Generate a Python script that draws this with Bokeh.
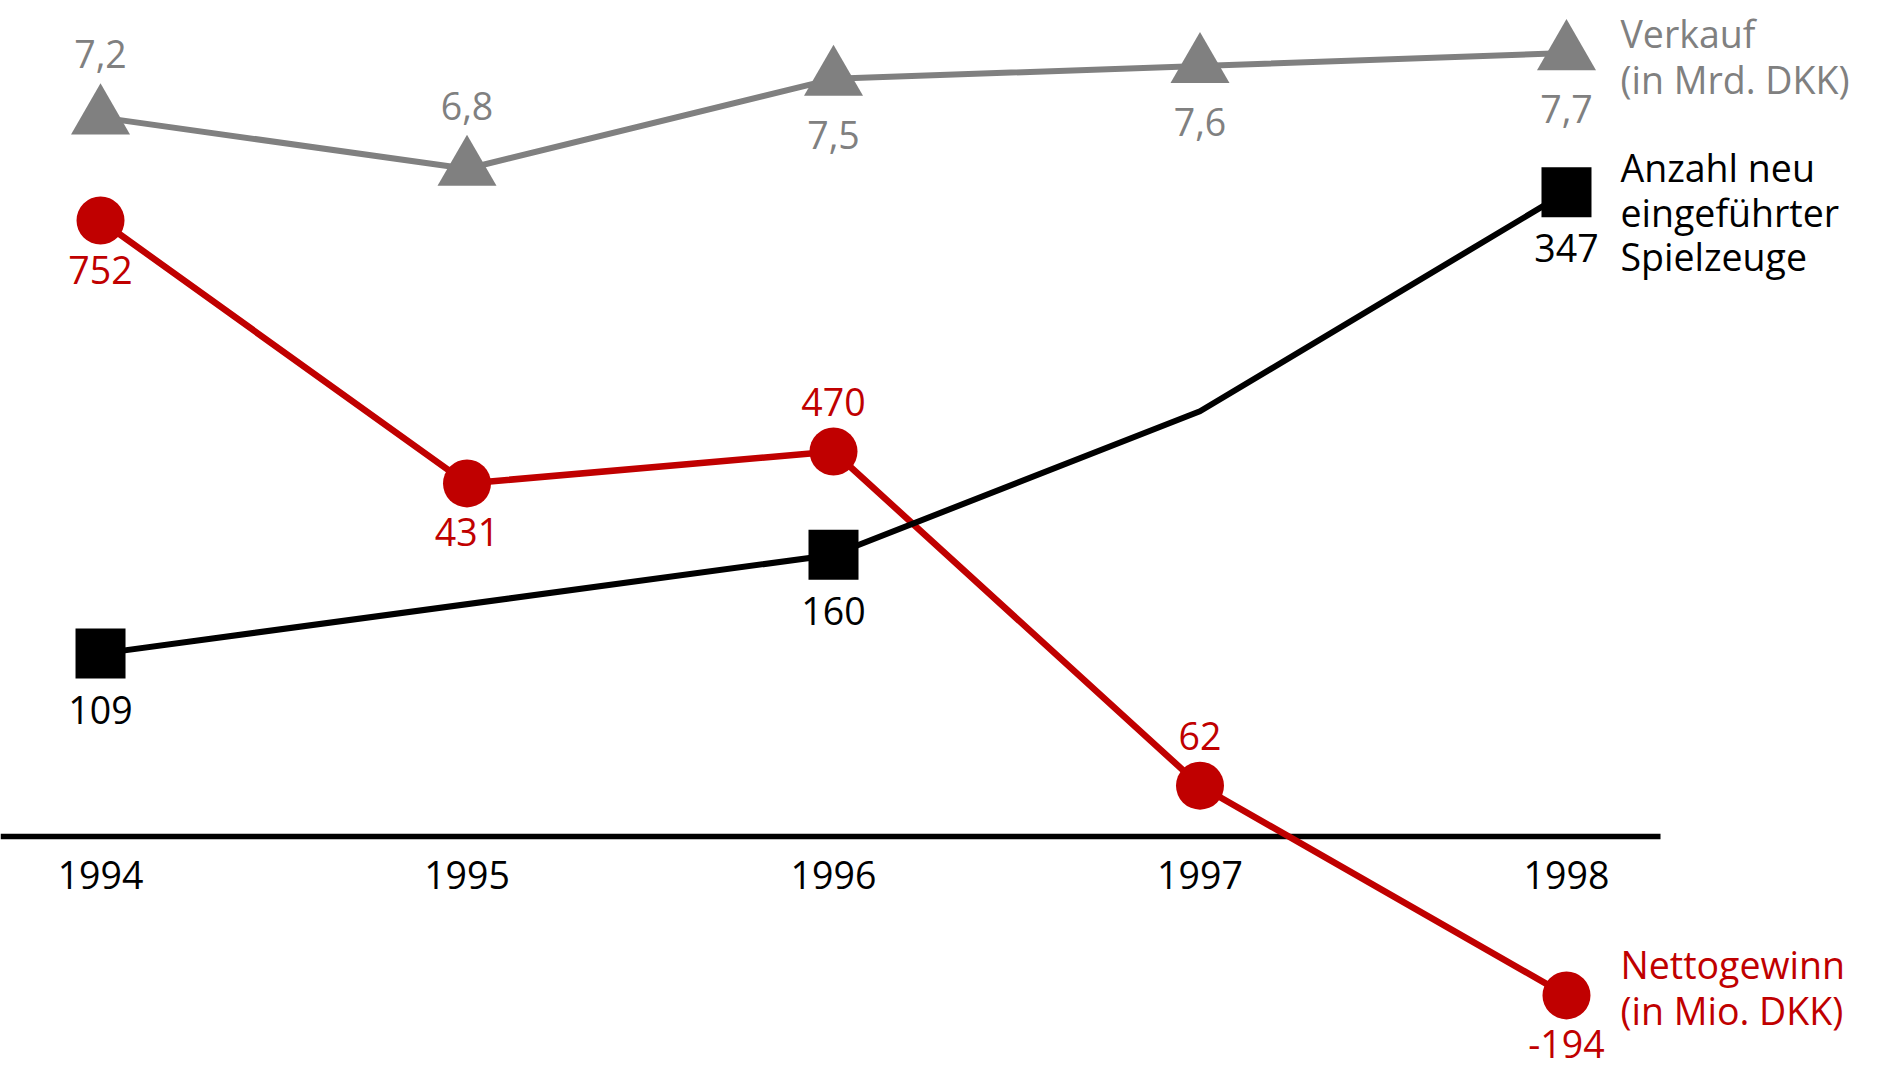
from bokeh.plotting import figure
from bokeh.models import Range1d, LinearAxis, FixedTicker, ColumnDataSource
from bokeh.core.properties import value
from bokeh.embed import file_html
from bokeh.resources import INLINE

# ---------------- data ----------------
years = [1994, 1995, 1996, 1997, 1998]
year_labels = ["1994", "1995", "1996", "1997", "1998"]

sales = [7.2, 6.8, 7.5, 7.6, 7.7]                 # Verkauf (in Mrd. DKK)
sales_text = ["7,2", "6,8", "7,5", "7,6", "7,7"]
sales_side = ["above", "above", "below", "below", "below"]

profit = [752, 431, 470, 62, -194]               # Nettogewinn (in Mio. DKK)
profit_text = ["752", "431", "470", "62", "-194"]
profit_side = ["below", "below", "above", "above", "below"]

toys_years = [1994, 1996, 1997, 1998]            # Anzahl neu eingeführter Spielzeuge
toys = [109, 160, 234, 347]
toys_marked = [True, True, False, True]
toys_text = ["109", "160", "", "347"]

sales_name = ["Verkauf", "(in Mrd. DKK)"]
toys_name = ["Anzahl neu", "eingeführter", "Spielzeuge"]
profit_name = ["Nettogewinn", "(in Mio. DKK)"]

GRAY = "#808080"
RED = "#C00000"
BLACK = "#000000"
FONT = "Open Sans"
FS = "37.5px"

p = figure(width=1880, height=1080, output_backend="svg", toolbar_location=None,
           x_range=Range1d(1993.7271, 1998.8568), y_range=Range1d(-297.9, 1020.6),
           x_axis_type=None, y_axis_type=None, min_border=0)
p.outline_line_color = None
p.grid.visible = False
p.background_fill_color = "white"
p.border_fill_color = "white"
p.extra_y_ranges = {"sales": Range1d(-0.2953, 8.1094), "toys": Range1d(-111.19, 445.86)}

# x axis at profit = 0
xaxis = LinearAxis(fixed_location=0, bounds=(1993.7271, 1998.2565),
                   ticker=FixedTicker(ticks=years),
                   major_label_overrides={y: t for y, t in zip(years, year_labels)})
xaxis.axis_line_width = 5.5
xaxis.axis_line_color = BLACK
xaxis.axis_line_cap = "butt"
xaxis.major_tick_line_color = None
xaxis.minor_tick_line_color = None
xaxis.major_tick_out = 0
xaxis.major_label_standoff = 25
xaxis.major_label_text_font = FONT
xaxis.major_label_text_font_size = FS
xaxis.major_label_text_color = BLACK
xaxis.level = "underlay"
p.add_layout(xaxis, "below")

def labels(xs, ys, texts, sides, color, up, down, range_name="default"):
    offs = [up if s == "above" else down for s in sides]
    src = ColumnDataSource(dict(x=xs, y=ys, t=texts, off=offs))
    p.text(x="x", y="y", text="t", y_offset="off", source=src,
           text_font=value(FONT), text_font_size=FS, text_color=color,
           text_align="center", text_baseline="middle", y_range_name=range_name)

def name(x, y, lines, color, first_off, gap, range_name="default"):
    src = ColumnDataSource(dict(x=[x] * len(lines), y=[y] * len(lines), t=lines,
                                off=[first_off + i * gap for i in range(len(lines))]))
    p.text(x="x", y="y", text="t", y_offset="off", x_offset=54, source=src,
           text_font=value(FONT), text_font_size=FS, text_color=color,
           text_align="left", text_baseline="middle", y_range_name=range_name)

# profit (red)
p.line(years, profit, line_color=RED, line_width=6.5)
p.scatter(years, profit, marker="circle", size=48, fill_color=RED, line_color=None)
labels(years, profit, profit_text, profit_side, RED, -50, 49)
name(years[-1], profit[-1], profit_name, RED, -30.5, 45.5)

# sales (gray)
p.line(years, sales, line_color=GRAY, line_width=6, y_range_name="sales")
p.scatter(years, sales, marker="triangle", size=59, fill_color=GRAY, line_color=None,
          y_range_name="sales")
labels(years, sales, sales_text, sales_side, GRAY, -63, 56, "sales")
name(years[-1], sales[-1], sales_name, GRAY, -19.5, 46, "sales")

# toys (black)
p.line(toys_years, toys, line_color=BLACK, line_width=6, y_range_name="toys")
mx = [x for x, m in zip(toys_years, toys_marked) if m]
my = [v for v, m in zip(toys, toys_marked) if m]
p.scatter(mx, my, marker="square", size=50, fill_color=BLACK, line_color=None,
          y_range_name="toys")
labels(toys_years, toys, toys_text, ["below"] * len(toys), BLACK, -55, 56, "toys")
name(toys_years[-1], toys[-1], toys_name, BLACK, -24.5, 44.5, "toys")

open("out.html", "w").write(file_html(p, INLINE))
